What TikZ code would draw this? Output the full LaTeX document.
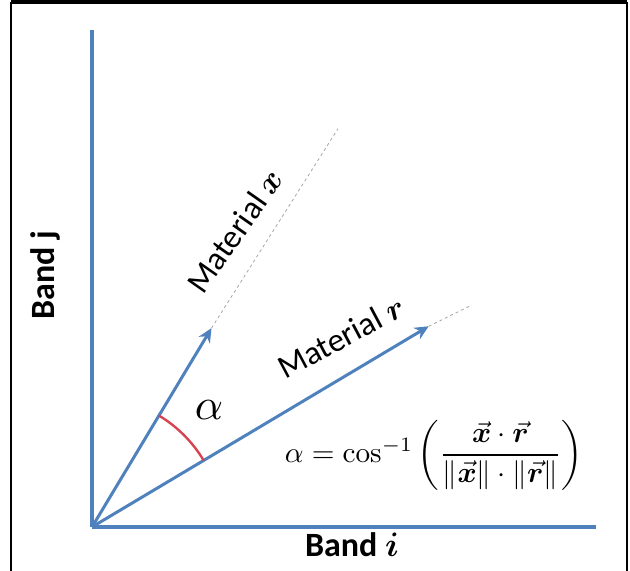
\documentclass[tikz,border=0pt]{standalone}
\usepackage{amsmath}
\usepackage{bm}
\usepackage[no-math]{fontspec}
\setmainfont{Carlito}
\newcommand{\vv}[2]{\scalebox{#2}{\normalsize$\bm{#1}$}}
\usetikzlibrary{arrows.meta,calc}
\definecolor{axblue}{RGB}{79,129,189}
\definecolor{arcred}{RGB}{214,68,82}
\begin{document}
\begin{tikzpicture}[x=1pt,y=1pt,
  axis/.style={draw=axblue,line width=3.2pt},
  vec/.style={draw=axblue,line width=3pt,-{Stealth[length=14pt,width=13pt]}},
  ext/.style={draw=gray!70,dashed,line width=0.8pt},
  lbl/.style={font=\fontsize{33}{36}\selectfont,inner sep=0pt},
  band/.style={font=\fontsize{34}{38}\selectfont\bfseries,inner sep=0pt}]
\useasboundingbox (0,0) rectangle (630,571);
\begin{scope}
\clip (0,0) rectangle (630,571);
\draw[line width=1.5pt] (11,-10) -- (11,568) -- (627,568) -- (627,-10);
\draw[line width=3pt] (11,569.5) -- (627,569.5);
\end{scope}
\coordinate (O) at (92,44);
\coordinate (ytop) at (92,541);
\coordinate (xend) at (596,44);
\coordinate (xtip) at ($(O)+(59:232)$);
\coordinate (xdash) at ($(O)+(58.3:468)$);
\coordinate (rtip) at ($(O)+(30.8:392)$);
\coordinate (rdash) at ($(O)+(30.3:440)$);
\draw[ext] (xtip) -- (xdash);
\draw[ext] (rtip) -- (rdash);
\draw[axis] (O) -- (ytop);
\draw[axis] (O) -- (xend);
\draw[vec] (O) -- (xtip);
\draw[vec] (O) -- (rtip);
\draw[arcred,line width=2.4pt] ($(O)+(30.8:130)$) arc[start angle=30.8,end angle=59,radius=130];
\node[inner sep=0pt] (alpha) at (209,161) {\scalebox{4.4}{$\alpha$}};
\node[inner sep=0pt] (formula) at (434,116) {\resizebox{298pt}{!}{$\alpha=\cos^{-1}\left(\dfrac{\vec{\bm x}\cdot\vec{\bm r}}{\|\vec{\bm x}\|\cdot\|\vec{\bm r}\|}\right)$}};
\node[lbl,rotate=55] (mx) at (235,340) {Material \vv{x}{3.2}};
\node[lbl,rotate=28] (mr) at (341,234) {Material \vv{r}{3.2}};
\node[band,rotate=90] (bj) at (45,296) {Band j};
\node[band] (bi) at (352,26) {Band \vv{i}{3.4}};
\end{tikzpicture}
\end{document}
